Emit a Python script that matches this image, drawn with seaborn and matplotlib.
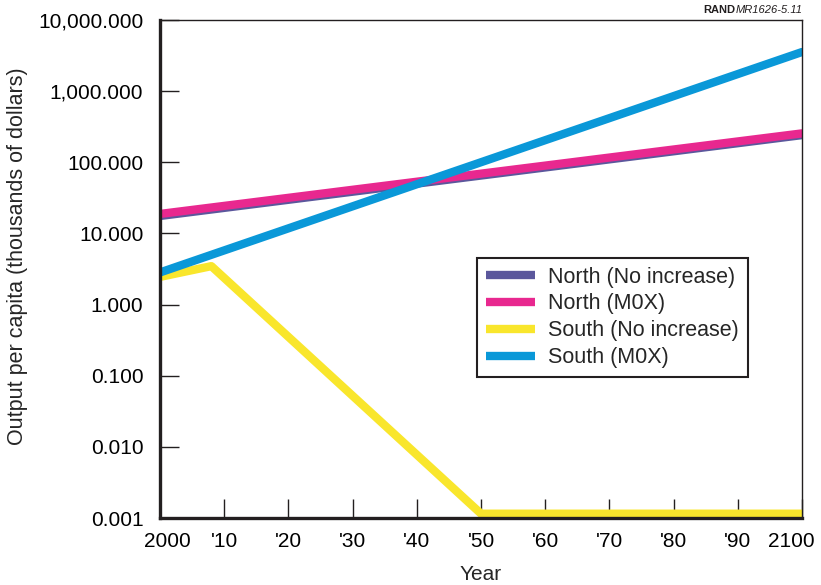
import numpy as np
import pandas as pd
import matplotlib
matplotlib.use('Agg')
import matplotlib.pyplot as plt
import matplotlib.transforms as mtransforms
import seaborn as sns

sns.set_style("ticks")
plt.rcParams['font.family'] = ['Liberation Sans', 'DejaVu Sans']

# data (thousands of dollars per capita)
series_names = ['North (No increase)', 'North (M0X)', 'South (No increase)', 'South (M0X)']
series_colors = ['#5B579C', '#E8288F', '#F9E62C', '#0A98D8']

north_years = [2000, 2100]
north_no_increase = [17.6, 241]
north_mox = [18.8, 255]

south_mox_years = [2000, 2100]
south_mox = [2.83, 3550]

south_noinc_years = [2000, 2008, 2050, 2100]
south_no_increase = [2.45, 3.47, 0.00115, 0.00115]

y_ticks = [0.001, 0.01, 0.1, 1, 10, 100, 1000, 10000]
y_tick_labels = ['0.001', '0.010', '0.100', '1.000', '10.000', '100.000', '1,000.000', '10,000.000']
x_ticks = [2000, 2010, 2020, 2030, 2040, 2050, 2060, 2070, 2080, 2090, 2100]
x_tick_labels = ['2000', "'10", "'20", "'30", "'40", "'50", "'60", "'70", "'80", "'90", '2100']

rows = []
for yr, v in zip(north_years, north_no_increase):
    rows.append((series_names[0], yr, v))
for yr, v in zip(north_years, north_mox):
    rows.append((series_names[1], yr, v))
for yr, v in zip(south_noinc_years, south_no_increase):
    rows.append((series_names[2], yr, v))
for yr, v in zip(south_mox_years, south_mox):
    rows.append((series_names[3], yr, v))
df = pd.DataFrame(rows, columns=['series', 'year', 'value'])

fig = plt.figure(figsize=(8.21, 5.85), dpi=100)
ax = fig.add_axes([0.1949, 0.1145, 0.7820, 0.8513])

sns.lineplot(data=df, x='year', y='value', hue='series', hue_order=series_names,
             palette=dict(zip(series_names, series_colors)), estimator=None,
             linewidth=6, ax=ax, legend=True)

ax.set_yscale('log')
ax.set_xlim(2000, 2100)
ax.set_ylim(0.001, 10000)
ax.set_yticks(y_ticks)
ax.set_yticklabels(y_tick_labels)
ax.set_xticks(x_ticks)
ax.set_xticklabels(x_tick_labels)
ax.minorticks_off()

ax.tick_params(axis='both', direction='in', length=14, width=1, color='#231F20',
               labelsize=15, labelcolor='black')
ax.tick_params(axis='y', pad=12)
ax.tick_params(axis='x', pad=10)

# end labels sit inside the tick positions in the original
xlabels = ax.get_xticklabels()
xlabels[0].set_transform(xlabels[0].get_transform() +
                         mtransforms.ScaledTranslation(7 / 100, 0, fig.dpi_scale_trans))
xlabels[-1].set_transform(xlabels[-1].get_transform() +
                          mtransforms.ScaledTranslation(-11 / 100, 0, fig.dpi_scale_trans))

for side in ['left', 'bottom']:
    ax.spines[side].set_linewidth(2.4)
    ax.spines[side].set_color('#231F20')
for side in ['top', 'right']:
    ax.spines[side].set_visible(True)
    ax.spines[side].set_linewidth(1)
    ax.spines[side].set_color('#231F20')

ax.set_xlabel('Year', fontsize=15, labelpad=10)
ax.set_ylabel('Output per capita (thousands of dollars)', fontsize=15.5)
ax.yaxis.set_label_coords(-0.206, 0.526)

leg = ax.legend(loc='upper left', bbox_to_anchor=(0.494, 0.522), fontsize=15.5,
                frameon=True, fancybox=False, edgecolor='#231F20', framealpha=1,
                handlelength=2.3, handletextpad=0.6, labelspacing=0.27,
                borderpad=0.4, borderaxespad=0)
leg.get_frame().set_linewidth(1.5)
for line in leg.get_lines():
    line.set_linewidth(6)
    line.set_solid_capstyle('butt')

fig.text(0.978, 0.975, 'RAND', fontsize=8, fontweight='bold', ha='right', va='bottom',
         color='#231F20')
t = fig.text(0.978, 0.975, 'MR1626-5.11', fontsize=8, style='italic', ha='right',
             va='bottom', color='#231F20')
# shift RAND to sit left of the italic code
fig.canvas.draw()
bb = t.get_window_extent()
fig.texts[0].set_position(((bb.x0 - 0.5) / fig.bbox.width, 0.975))

fig.savefig('out.png', dpi=100)
